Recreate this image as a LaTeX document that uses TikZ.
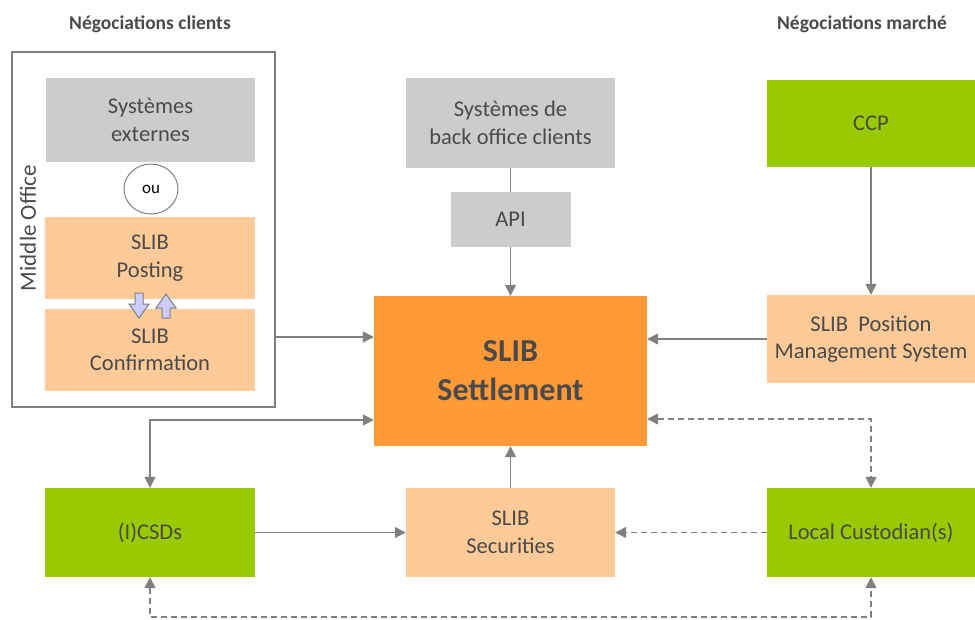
\documentclass[tikz,border=0pt]{standalone}
\usepackage{fontspec}
\setmainfont{Carlito}
\usetikzlibrary{arrows.meta,shapes.geometric}
\definecolor{txt}{HTML}{4A4A4A}
\definecolor{lin}{HTML}{808080}
\definecolor{grayf}{HTML}{CCCCCC}
\definecolor{peach}{HTML}{FDCA98}
\definecolor{orng}{HTML}{FF9A36}
\definecolor{grn}{HTML}{99CA00}
\definecolor{lav}{HTML}{CCCCFF}
\tikzset{
  box/.style={rectangle, inner sep=0pt, align=center, text=txt,
    font=\fontsize{22.5}{27.5}\selectfont},
  arr/.style={draw=lin, line width=1.5pt, -{Triangle[length=11pt,width=11pt]}},
  biarr/.style={draw=lin, line width=1.5pt, {Triangle[length=11pt,width=11pt]}-{Triangle[length=11pt,width=11pt]}},
  plain/.style={draw=lin, line width=1.5pt},
  dsh/.style={dash pattern=on 6pt off 4pt},
  ttl/.style={font=\fontsize{19.5}{23}\selectfont\bfseries, text=txt},
  blk/.style={draw=lin, fill=lav, line width=1pt, line join=miter}
}
\begin{document}
\begin{tikzpicture}[x=1pt,y=-1pt]
\useasboundingbox (0,0) rectangle (975,619);
% titles
\node[ttl] (t1) at (150,24) {Négociations clients};
\node[ttl] (t2) at (862,24) {Négociations marché};
% middle office frame
\node[rectangle, draw=lin, line width=1.5pt, minimum width=263pt, minimum height=355pt] (mo) at (143.5,229.5) {};
\node[box, rotate=90, font=\fontsize{23}{27}\selectfont] (mol) at (28,228) {Middle Office};
% left stack
\node[box, fill=grayf, minimum width=209pt, minimum height=84pt] (ext) at (150.5,120) {Systèmes\\externes};
\node[ellipse, draw=lin, line width=1pt, fill=white, minimum width=54pt, minimum height=50pt, inner sep=0pt, text=black, font=\fontsize{17}{19}\selectfont] (ou) at (151,189) {ou};
\node[box, fill=peach, minimum width=210pt, minimum height=82pt] (post) at (150,258) {SLIB\\Posting};
\node[box, fill=peach, minimum width=210pt, minimum height=82pt] (conf) at (150,350) {SLIB\\Confirmation};
% small block arrows
\draw[blk] (135,293) -- (143,293) -- (143,304) -- (149,304) -- (139,318) -- (129,304) -- (135,304) -- cycle;
\draw[blk] (162,318) -- (170,318) -- (170,308) -- (176,308) -- (166,294) -- (156,308) -- (162,308) -- cycle;
% centre column
\node[box, fill=grayf, minimum width=209pt, minimum height=90pt] (back) at (510.5,123) {Systèmes de\\back office clients};
\node[box, fill=grayf, minimum width=120pt, minimum height=55pt] (api) at (510.5,219.5) {API};
\node[box, fill=orng, minimum width=273pt, minimum height=150pt, font=\fontsize{32}{39}\selectfont\bfseries] (set) at (510.5,371) {SLIB\\Settlement};
\node[box, fill=peach, minimum width=209pt, minimum height=89pt] (sec) at (510.5,532.5) {SLIB\\Securities};
% right column
\node[box, fill=grn, minimum width=208pt, minimum height=87pt] (ccp) at (871,123.5) {CCP};
\node[box, fill=peach, minimum width=208pt, minimum height=88pt] (pos) at (871,339) {SLIB\ \ Position\\Management System};
\node[box, fill=grn, minimum width=208pt, minimum height=89pt] (cust) at (871,532.5) {Local Custodian(s)};
% left bottom
\node[box, fill=grn, minimum width=210pt, minimum height=89pt] (csd) at (150,532.5) {(I)CSDs};
% connectors
\draw[plain] (back.south) -- (api.north);
\draw[arr] (api.south) -- (set.north);
\draw[arr] (ccp.south) -- (pos.north);
\draw[arr] (pos.west) -- (set.east |- pos.west);
\draw[arr] (mo.east |- 0,337) -- (set.west |- 0,337);
\draw[biarr] (set.west |- 0,420) -- (csd.north |- 0,420) -- (csd.north);
\draw[arr] (csd.east) -- (sec.west);
\draw[arr] (sec.north) -- (set.south);
\draw[biarr, dsh] (set.east |- 0,419) -- (cust.north |- 0,419) -- (cust.north);
\draw[arr, dsh] (cust.west) -- (sec.east);
\draw[biarr, dsh] (csd.south) -- (csd.south |- 0,617) -- (cust.south |- 0,617) -- (cust.south);
\end{tikzpicture}
\end{document}
